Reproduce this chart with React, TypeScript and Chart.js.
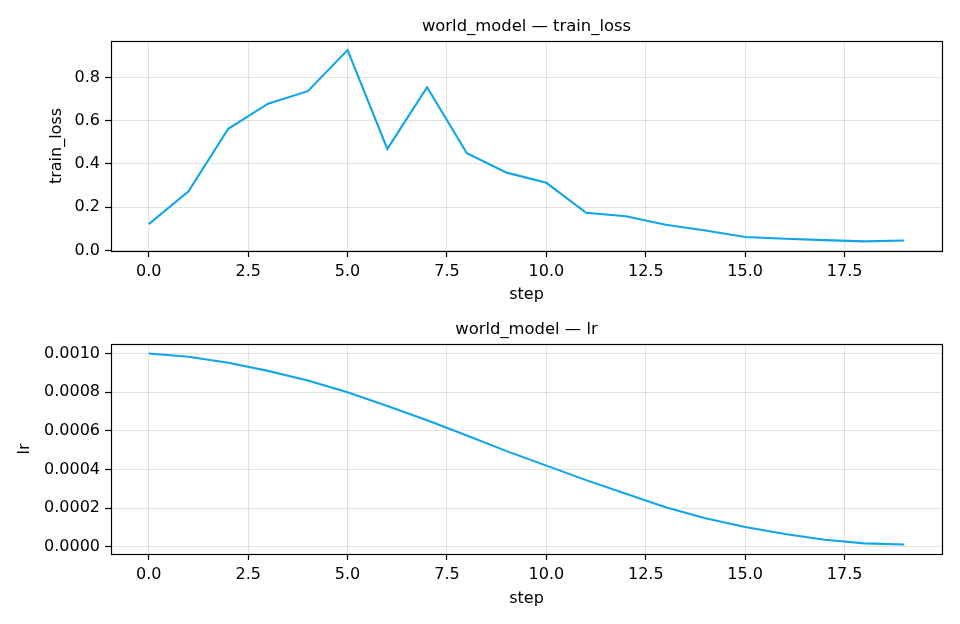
import { useEffect, useRef } from "react";
import { Chart, registerables } from "chart.js";
Chart.register(...registerables);

const steps = [0, 1, 2, 3, 4, 5, 6, 7, 8, 9, 10, 11, 12, 13, 14, 15, 16, 17, 18, 19];
const trainLoss = [
  0.122, 0.274, 0.563, 0.679, 0.737, 0.927, 0.47, 0.755, 0.45, 0.36,
  0.313, 0.174, 0.158, 0.119, 0.092, 0.062, 0.054, 0.048, 0.042, 0.046,
];
const lr = [
  0.001, 0.000983, 0.000952, 0.00091, 0.00086, 0.0008, 0.000728, 0.000655, 0.000576, 0.000495,
  0.00042, 0.000345, 0.000275, 0.000205, 0.000148, 0.000103, 0.000066, 0.000037, 0.000018, 0.000012,
];
const xTicks = [0, 2.5, 5, 7.5, 10, 12.5, 15, 17.5];
const lossTicks = [0, 0.2, 0.4, 0.6, 0.8];
const lrTicks = [0, 0.0002, 0.0004, 0.0006, 0.0008, 0.001];

const FONT = "'DejaVu Sans', sans-serif";
const LINE = "#10a5e8";
const GRID = "rgba(0,0,0,0.11)";

// title above the plot + full black frame, like matplotlib
const framePlugin = {
  id: "frame",
  afterDraw(chart: any, _args: any, opts: any) {
    const { ctx, chartArea: a } = chart;
    ctx.save();
    ctx.strokeStyle = "#000";
    ctx.lineWidth = 1.2;
    ctx.strokeRect(Math.round(a.left) + 0.5, Math.round(a.top) + 0.5,
      Math.round(a.right - a.left), Math.round(a.bottom - a.top));
    ctx.fillStyle = "#000";
    ctx.font = `16.4px ${FONT}`;
    ctx.textAlign = "center";
    ctx.textBaseline = "alphabetic";
    ctx.fillText(opts.text, (a.left + a.right) / 2, a.top - 10);
    ctx.restore();
  },
};

function Panel({ title, yLabel, values, yTicks, ymin, ymax, decimals, yTitlePad, padTop, xHeight, xTitlePad }: {
  title: string; yLabel: string; values: number[]; yTicks: number[];
  ymin: number; ymax: number; decimals: number; yTitlePad: number;
  padTop: number; xHeight: number; xTitlePad: number;
}) {
  const canvasRef = useRef<HTMLCanvasElement>(null);

  useEffect(() => {
    if (!canvasRef.current) return;
    const chart = new Chart(canvasRef.current, {
      type: "line",
      data: {
        datasets: [{
          data: steps.map((s, i) => ({ x: s, y: values[i] })),
          borderColor: LINE,
          borderWidth: 2.1,
          pointRadius: 0,
          tension: 0,
          fill: false,
        }],
      },
      options: {
        responsive: false,
        animation: false,
        layout: { padding: { top: padTop, right: 18, left: 0, bottom: 0 } },
        plugins: {
          legend: { display: false },
          tooltip: { enabled: false },
          frame: { text: title },
        } as any,
        scales: {
          x: {
            type: "linear",
            min: -0.95,
            max: 19.95,
            afterBuildTicks: (s: any) => { s.ticks = xTicks.map((v) => ({ value: v })); },
            afterFit: (s: any) => { s.height = xHeight; },
            ticks: {
              color: "#000",
              font: { family: FONT, size: 16 },
              padding: 5,
              maxRotation: 0,
              callback: (v: any) => Number(v).toFixed(1),
            },
            grid: { color: GRID, lineWidth: 1, tickColor: "#000", tickLength: 6, tickWidth: 1.2 },
            border: { display: false },
            title: {
              display: true,
              text: "step",
              color: "#000",
              font: { family: FONT, size: 16 },
              padding: { top: 0, bottom: xTitlePad },
            },
          },
          y: {
            type: "linear",
            min: ymin,
            max: ymax,
            afterBuildTicks: (s: any) => { s.ticks = yTicks.map((v) => ({ value: v })); },
            afterFit: (s: any) => { s.width = 111; },
            ticks: {
              color: "#000",
              font: { family: FONT, size: 16 },
              padding: 5,
              callback: (v: any) => Number(v).toFixed(decimals),
            },
            grid: { color: GRID, lineWidth: 1, tickColor: "#000", tickLength: 6, tickWidth: 1.2 },
            border: { display: false },
            title: {
              display: true,
              text: yLabel,
              color: "#000",
              font: { family: FONT, size: 16 },
              padding: { top: yTitlePad, bottom: 0 },
            },
          },
        },
      },
      plugins: [framePlugin],
    });
    return () => chart.destroy();
  }, []);

  return <canvas ref={canvasRef} width={960} height={312} style={{ display: "block" }} />;
}

export default function App() {
  return (
    <div style={{ position: "absolute", left: 0, top: 0, width: 960, height: 624, background: "#fff" }}>
      <Panel title="world_model — train_loss" yLabel="train_loss" values={trainLoss}
        yTicks={lossTicks} ymin={-0.0025} ymax={0.969} decimals={1} yTitlePad={47}
        padTop={41} xHeight={61} xTitlePad={8} />
      <Panel title="world_model — lr" yLabel="lr" values={lr}
        yTicks={lrTicks} ymin={-0.000037} ymax={0.001049} decimals={4} yTitlePad={15}
        padTop={32} xHeight={70} xTitlePad={16} />
    </div>
  );
}
